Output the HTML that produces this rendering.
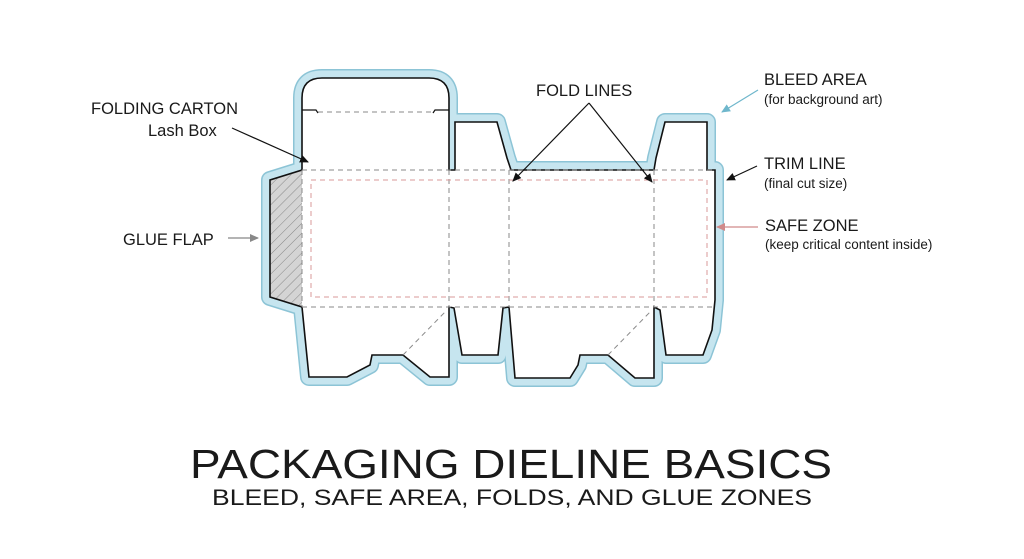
<!DOCTYPE html>
<html><head><meta charset="utf-8"><style>
html,body{margin:0;padding:0;background:#fff;}
svg{display:block;}
text{font-family:"Liberation Sans",sans-serif;fill:#1a1a1a;}
</style></head><body>
<svg width="1024" height="559" viewBox="0 0 1024 559" xmlns="http://www.w3.org/2000/svg">
<defs>
<pattern id="hatch" width="7" height="7" patternUnits="userSpaceOnUse" patternTransform="rotate(45)">
<rect width="7" height="7" fill="#d4d4d4"/><line x1="0" y1="0" x2="0" y2="7" stroke="#888" stroke-width="1"/>
</pattern>
<marker id="ab" markerWidth="10" markerHeight="10" refX="8" refY="5" orient="auto" markerUnits="userSpaceOnUse"><path d="M0,1 L9,5 L0,9 Z" fill="#111"/></marker>
<marker id="ag" markerWidth="10" markerHeight="10" refX="8" refY="5" orient="auto" markerUnits="userSpaceOnUse"><path d="M0,1 L9,5 L0,9 Z" fill="#888"/></marker>
<marker id="abl" markerWidth="10" markerHeight="10" refX="8" refY="5" orient="auto" markerUnits="userSpaceOnUse"><path d="M0,1 L9,5 L0,9 Z" fill="#6fb7cc"/></marker>
<marker id="ar" markerWidth="10" markerHeight="10" refX="8" refY="5" orient="auto" markerUnits="userSpaceOnUse"><path d="M0,1 L9,5 L0,9 Z" fill="#d08a8a"/></marker>
<path id="trim" d="M302,110 L302,98 Q302,78 322,78 L429,78 Q449,78 449,98 L449,170 L455,170 L455,122 L497,122 L507,158 L511,170 L654,170 L656,158 L665,122 L707,122 L707,170 L715,170 L715,300 L712,330 L703,355 L666,355 L660,310 L654,307 L654,378 L635,378 L608,355 L580,355 L578,365 L570,378 L515,378 L509,307 L503,308 L498,355 L462,355 L454,308 L449,307 L449,377 L430,377 L403,355 L372,355 L370,365 L347,377 L309,377 L302,307 L270,297 L270,180 L302,170 Z"/>
</defs>
<use href="#trim" fill="#c6e5ef" stroke="#8cc4d6" stroke-width="18" stroke-linejoin="round"/>
<use href="#trim" fill="#c6e5ef" stroke="#c6e5ef" stroke-width="15" stroke-linejoin="round"/>
<use href="#trim" fill="#fff" stroke="none"/>
<polygon points="270,180 302,170 302,307 270,297" fill="url(#hatch)"/>
<use href="#trim" fill="none" stroke="#111" stroke-width="1.6" stroke-linejoin="miter"/>
<g stroke="#8a8a8a" stroke-width="1" stroke-dasharray="5,4" fill="none">
<line x1="302" y1="170" x2="715" y2="170"/>
<line x1="302" y1="307" x2="715" y2="307"/>
<line x1="449" y1="170" x2="449" y2="307"/>
<line x1="509" y1="170" x2="509" y2="307"/>
<line x1="654" y1="170" x2="654" y2="307"/>
<line x1="302" y1="170" x2="302" y2="307"/>
<path d="M318,112 L433,112"/>
<line x1="403" y1="355" x2="447" y2="310"/>
<line x1="608" y1="355" x2="652" y2="310"/>
</g>
<path d="M302,110 L316,110 L318,113 M449,110 L435,110 L433,113" stroke="#111" stroke-width="1.2" fill="none"/>
<rect x="311" y="180" width="396" height="117" fill="none" stroke="#d89a9a" stroke-width="1" stroke-dasharray="5,4"/>
<line x1="232" y1="128" x2="308" y2="162" stroke="#111" stroke-width="1.2" marker-end="url(#ab)"/>
<line x1="589" y1="103" x2="513" y2="181" stroke="#111" stroke-width="1.2" marker-end="url(#ab)"/>
<line x1="589" y1="103" x2="652" y2="182" stroke="#111" stroke-width="1.2" marker-end="url(#ab)"/>
<line x1="758" y1="90" x2="722" y2="112" stroke="#6fb7cc" stroke-width="1.2" marker-end="url(#abl)"/>
<line x1="757" y1="166" x2="727" y2="180" stroke="#111" stroke-width="1.2" marker-end="url(#ab)"/>
<line x1="758" y1="227" x2="717" y2="227" stroke="#d08a8a" stroke-width="1.2" marker-end="url(#ar)"/>
<line x1="228" y1="238" x2="258" y2="238" stroke="#888" stroke-width="1.2" marker-end="url(#ag)"/>
<text x="91" y="114" font-size="16.5">FOLDING CARTON</text>
<text x="148" y="136" font-size="16.5">Lash Box</text>
<text x="123" y="245" font-size="16.5">GLUE FLAP</text>
<text x="536" y="96" font-size="16.5">FOLD LINES</text>
<text x="764" y="85" font-size="16.5">BLEED AREA</text>
<text x="764" y="104" font-size="13.5">(for background art)</text>
<text x="764" y="169" font-size="16.5">TRIM LINE</text>
<text x="764" y="188" font-size="13.5">(final cut size)</text>
<text x="765" y="231" font-size="16.5">SAFE ZONE</text>
<text x="765" y="249" font-size="13.5">(keep critical content inside)</text>
<text x="190" y="478" font-size="41" textLength="642" lengthAdjust="spacingAndGlyphs">PACKAGING DIELINE BASICS</text>
<text x="212" y="505" font-size="22" textLength="600" lengthAdjust="spacingAndGlyphs">BLEED, SAFE AREA, FOLDS, AND GLUE ZONES</text>
</svg>
</body></html>
